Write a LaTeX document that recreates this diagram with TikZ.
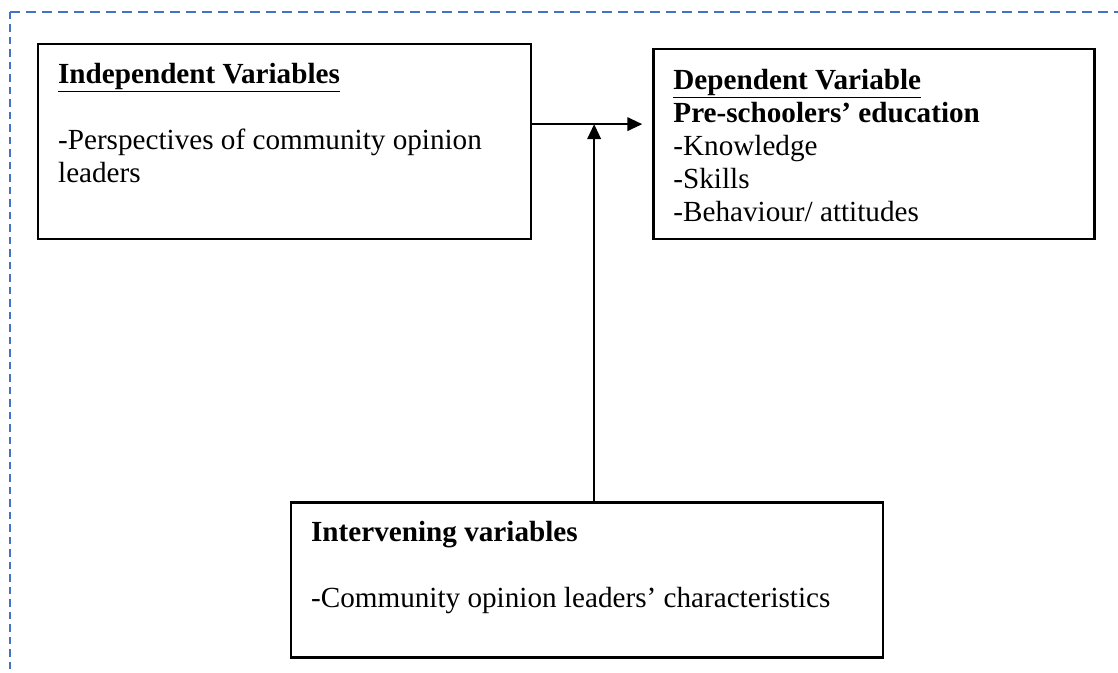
\documentclass[tikz,border=0pt]{standalone}
\usepackage{fontspec}
\setmainfont{Liberation Serif}
\usetikzlibrary{arrows.meta,positioning}
\definecolor{frameblue}{RGB}{68,114,196}

\begin{document}
\begin{tikzpicture}[
    every node/.style={font=\fontsize{16.6}{18.8}\selectfont},
    box/.style={draw, line width=1.3pt, align=flush left, inner xsep=0.4cm, inner ysep=0pt},
    flow/.style={-{Triangle[length=0.3cm, width=0.27cm]}, line width=1.3pt},
    frame/.style={draw=frameblue, line width=1.2pt}
]
\useasboundingbox (0,0) rectangle (22.36,13.46);
\draw[frame, dash pattern=on 0.19cm off 0.13cm] (0.2,13.22) -- (22.36,13.22);
\draw[frame, dash pattern=on 0.15cm off 0.1cm] (0.2,13.22) -- (0.2,0);
\node[box, anchor=north west, text width=9.06cm, text height=0.78cm, text depth=3.12cm] (indep) at (0.74,12.6) {\underline{\textbf{Independent Variables}}\\[0.66cm]-Perspectives of community opinion\\leaders};
\node[box, below right=0.1cm and 2.4cm of indep.north east, text width=8.02cm, text height=0.8cm, text depth=3.0cm] (dep) {\underline{\textbf{Dependent Variable}}\\\textbf{Pre-schoolers' education}\\-Knowledge\\-Skills\\-Behaviour/ attitudes};
\node[box, below right=5.22cm and 5.06cm of indep.south west, text width=11.04cm, text height=0.78cm, text depth=2.32cm] (interv) {\textbf{Intervening variables}\\[0.66cm]-Community opinion leaders' characteristics};
\coordinate (split) at ([yshift=0.35cm]indep.east);
\coordinate (rise) at ([xshift=0.14cm]interv.north);
\draw[flow, shorten >=0.2cm] (split) -- (split -| dep.west);
\draw[flow] (rise) -- (rise |- split);
\end{tikzpicture}
\end{document}
